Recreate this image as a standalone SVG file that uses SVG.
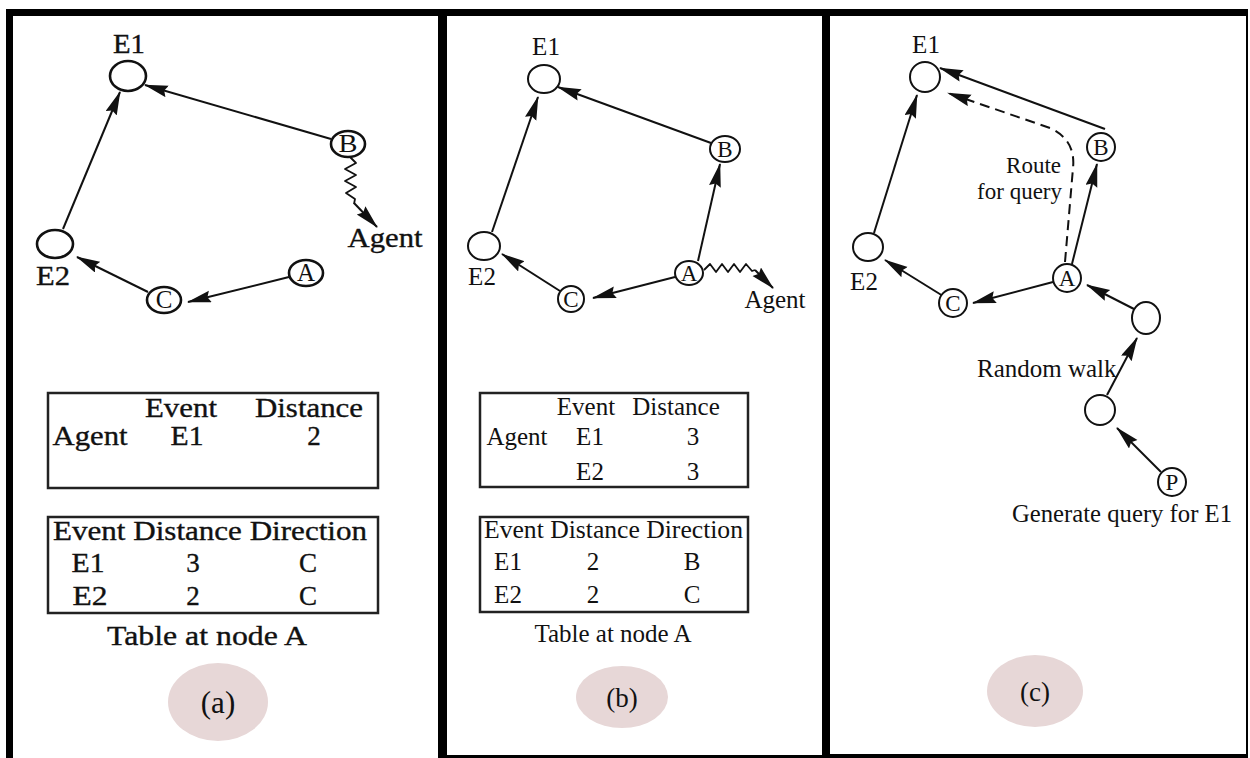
<svg xmlns="http://www.w3.org/2000/svg" width="1250" height="758" viewBox="0 0 1250 758">
  <style>
    text { font-family: "Liberation Serif", "Times New Roman", serif; fill: #111; }
    .ta { font-size: 27px; stroke: #111; stroke-width: 0.35; }
    .tb { font-size: 25px; }
    .lbl { font-size: 25px; text-anchor: middle; }
    .lbs { font-size: 23px; text-anchor: middle; }
    .mid { text-anchor: middle; }
    .node { fill: #fff; stroke: #111; stroke-width: 2; }
    .nodeA { fill: #fff; stroke: #111; stroke-width: 2.6; }
    .edge { fill: none; stroke: #111; stroke-width: 2; marker-end: url(#head); }
    .wave { fill: none; stroke: #111; stroke-width: 1.8; stroke-linejoin: round; }
    .dash { fill: none; stroke: #111; stroke-width: 2; stroke-dasharray: 10 6; marker-end: url(#head); }
    .table { fill: none; stroke: #222; stroke-width: 2.5; }
    .tag { fill: #e7d7d7; stroke: none; }
    .frame { fill: #000; }
  </style>
  <defs>
    <marker id="head" markerUnits="userSpaceOnUse" markerWidth="26" markerHeight="13" refX="23" refY="6" orient="auto">
      <path d="M0,0 L24,6 L0,12 L3,6 z" fill="#111"/>
    </marker>
  </defs>

  <rect width="1250" height="758" fill="#fff"/>

  <!-- panel frames -->
  <g id="frames">
    <rect class="frame" x="6" y="9" width="1242" height="7"/>
    <rect class="frame" x="6" y="9" width="7" height="749"/>
    <rect class="frame" x="438" y="9" width="9" height="749"/>
    <rect class="frame" x="822" y="9" width="8" height="749"/>
    <rect class="frame" x="1246" y="9" width="2" height="749"/>
    <rect class="frame" x="447" y="755" width="375" height="3"/>
    <rect class="frame" x="830" y="754" width="418" height="4"/>
  </g>

  <!-- connectors -->
  <g id="connectors">
    <!-- panel (a) -->
    <line class="edge" x1="63" y1="229" x2="120" y2="92"/>
    <line class="edge" x1="331" y1="139" x2="145" y2="85"/>
    <line class="edge" x1="148" y1="292" x2="77" y2="257"/>
    <line class="edge" x1="289" y1="277" x2="188" y2="302"/>
    <polyline class="wave" points="350,157 356,163 345,169 356,175 345,181 356,187 346,193 355,199 354,204"/>
    <line class="edge" x1="354" y1="203" x2="377" y2="227"/>
    <!-- panel (b) -->
    <line class="edge" x1="492" y1="232" x2="538" y2="97"/>
    <line class="edge" x1="711" y1="143" x2="558" y2="87"/>
    <line class="edge" x1="698" y1="261" x2="720" y2="164"/>
    <line class="edge" x1="560" y1="291" x2="502" y2="254"/>
    <line class="edge" x1="675" y1="277" x2="593" y2="298"/>
    <polyline class="wave" points="704,270 710,264 716,272 722,264 728,272 734,264 740,272 746,264 752,271 755,270"/>
    <line class="edge" x1="755" y1="270" x2="773" y2="288"/>
    <!-- panel (c) -->
    <line class="edge" x1="874" y1="233" x2="917" y2="95"/>
    <line class="edge" x1="1105" y1="129" x2="940" y2="68"/>
    <path class="dash" d="M1065,262 L1073,168 Q1076,140 1050,128 L948,93"/>
    <line class="edge" x1="943" y1="296" x2="885" y2="260"/>
    <line class="edge" x1="1053" y1="282" x2="973" y2="303"/>
    <line class="edge" x1="1072" y1="264" x2="1097" y2="164"/>
    <line class="edge" x1="1134" y1="309" x2="1087" y2="285"/>
    <line class="edge" x1="1107" y1="395" x2="1137" y2="338"/>
    <line class="edge" x1="1161" y1="472" x2="1117" y2="428"/>
  </g>

  <!-- panel (a) nodes -->
  <g id="a-E1"><ellipse class="nodeA" cx="128" cy="76" rx="18" ry="15"/><text class="ta mid" x="129" y="53" textLength="32" lengthAdjust="spacingAndGlyphs">E1</text></g>
  <g id="a-E2"><ellipse class="nodeA" cx="55" cy="244" rx="18" ry="14"/><text class="ta mid" x="53" y="285" textLength="34" lengthAdjust="spacingAndGlyphs">E2</text></g>
  <g id="a-B"><ellipse class="nodeA" cx="348" cy="144" rx="17" ry="13"/><text class="lbl" x="348" y="152" textLength="19" lengthAdjust="spacingAndGlyphs">B</text></g>
  <g id="a-C"><ellipse class="nodeA" cx="164" cy="300" rx="17" ry="13" stroke-width="3"/><text class="lbl" x="164" y="308">C</text></g>
  <g id="a-A"><ellipse class="nodeA" cx="306" cy="273" rx="17" ry="13"/><text class="lbl" x="306" y="281">A</text></g>
  <g id="a-agent"><text class="ta mid" x="385" y="247" textLength="75" lengthAdjust="spacingAndGlyphs">Agent</text></g>

  <!-- panel (a) tables -->
  <g id="a-agent-table">
    <rect class="table" x="48" y="393" width="330" height="95"/>
    <text class="ta mid" x="181" y="417" textLength="72" lengthAdjust="spacingAndGlyphs">Event</text>
    <text class="ta mid" x="309" y="417" textLength="108" lengthAdjust="spacingAndGlyphs">Distance</text>
    <text class="ta mid" x="90" y="445" textLength="75" lengthAdjust="spacingAndGlyphs">Agent</text>
    <text class="ta mid" x="187" y="445" textLength="33" lengthAdjust="spacingAndGlyphs">E1</text>
    <text class="ta mid" x="314" y="445">2</text>
  </g>
  <g id="a-node-table">
    <rect class="table" x="48" y="517" width="330" height="96"/>
    <text class="ta" x="53" y="540" textLength="314" lengthAdjust="spacingAndGlyphs">Event Distance Direction</text>
    <text class="ta mid" x="88" y="572" textLength="33" lengthAdjust="spacingAndGlyphs">E1</text>
    <text class="ta mid" x="193" y="572">3</text>
    <text class="ta mid" x="308" y="572">C</text>
    <text class="ta mid" x="90" y="605" textLength="35" lengthAdjust="spacingAndGlyphs">E2</text>
    <text class="ta mid" x="193" y="605">2</text>
    <text class="ta mid" x="308" y="605">C</text>
    <text class="ta mid" x="207" y="645" textLength="200" lengthAdjust="spacingAndGlyphs">Table at node A</text>
  </g>
  <g id="a-tag"><ellipse class="tag" cx="218" cy="702" rx="50" ry="39"/><text class="mid" x="218" y="713" font-size="31">(a)</text></g>

  <!-- panel (b) nodes -->
  <g id="b-E1"><ellipse class="node" cx="544" cy="79" rx="16" ry="14"/><text class="tb mid" x="546" y="55">E1</text></g>
  <g id="b-E2"><ellipse class="node" cx="484" cy="246" rx="16" ry="14"/><text class="tb mid" x="482" y="285">E2</text></g>
  <g id="b-B"><ellipse class="node" cx="725" cy="149" rx="15" ry="13"/><text class="lbs" x="725" y="157">B</text></g>
  <g id="b-C"><ellipse class="node" cx="571" cy="299" rx="13" ry="13" stroke-width="2.6"/><text class="lbs" x="571" y="307">C</text></g>
  <g id="b-A"><ellipse class="node" cx="689" cy="273" rx="14" ry="12"/><text class="lbs" x="689" y="281">A</text></g>
  <g id="b-agent"><text class="tb mid" x="775" y="308">Agent</text></g>

  <!-- panel (b) tables -->
  <g id="b-agent-table">
    <rect class="table" x="480" y="393" width="268" height="94"/>
    <text class="tb mid" x="586" y="415">Event</text>
    <text class="tb mid" x="676" y="415">Distance</text>
    <text class="tb mid" x="517" y="445">Agent</text>
    <text class="tb mid" x="590" y="445">E1</text>
    <text class="tb mid" x="693" y="445">3</text>
    <text class="tb mid" x="590" y="480">E2</text>
    <text class="tb mid" x="693" y="480">3</text>
  </g>
  <g id="b-node-table">
    <rect class="table" x="480" y="517" width="268" height="95"/>
    <text class="tb" x="484" y="538" textLength="259" lengthAdjust="spacingAndGlyphs">Event Distance Direction</text>
    <text class="tb mid" x="508" y="570">E1</text>
    <text class="tb mid" x="593" y="570">2</text>
    <text class="tb mid" x="692" y="570">B</text>
    <text class="tb mid" x="508" y="603">E2</text>
    <text class="tb mid" x="593" y="603">2</text>
    <text class="tb mid" x="692" y="603">C</text>
    <text class="tb mid" x="613" y="642">Table at node A</text>
  </g>
  <g id="b-tag"><ellipse class="tag" cx="622" cy="697" rx="46" ry="31"/><text class="mid" x="622" y="707" font-size="27">(b)</text></g>

  <!-- panel (c) nodes -->
  <g id="c-E1"><ellipse class="node" cx="925" cy="77" rx="15" ry="15"/><text class="tb mid" x="926" y="53">E1</text></g>
  <g id="c-E2"><ellipse class="node" cx="868" cy="247" rx="15" ry="14"/><text class="tb mid" x="864" y="290">E2</text></g>
  <g id="c-B"><ellipse class="node" cx="1101" cy="147" rx="14" ry="14"/><text class="lbs" x="1101" y="155">B</text></g>
  <g id="c-C"><ellipse class="node" cx="953" cy="303" rx="14" ry="14" stroke-width="2.6"/><text class="lbs" x="953" y="311">C</text></g>
  <g id="c-A"><ellipse class="node" cx="1067" cy="278" rx="14" ry="14"/><text class="lbs" x="1067" y="286">A</text></g>
  <g id="c-walk1"><ellipse class="node" cx="1146" cy="318" rx="14" ry="16"/></g>
  <g id="c-walk2"><ellipse class="node" cx="1100" cy="410" rx="15" ry="15"/></g>
  <g id="c-P"><ellipse class="node" cx="1172" cy="482" rx="14" ry="14"/><text class="lbs" x="1172" y="490">P</text></g>
  <g id="c-labels">
    <text x="1061" y="173" text-anchor="end" font-size="23">Route</text>
    <text x="1062" y="199" text-anchor="end" font-size="23">for query</text>
    <text class="tb" x="977" y="377">Random walk</text>
    <text class="tb" x="1012" y="522" textLength="220" lengthAdjust="spacingAndGlyphs">Generate query for E1</text>
  </g>
  <g id="c-tag"><ellipse class="tag" cx="1035" cy="691" rx="48" ry="36"/><text class="mid" x="1035" y="701" font-size="27">(c)</text></g>
</svg>
